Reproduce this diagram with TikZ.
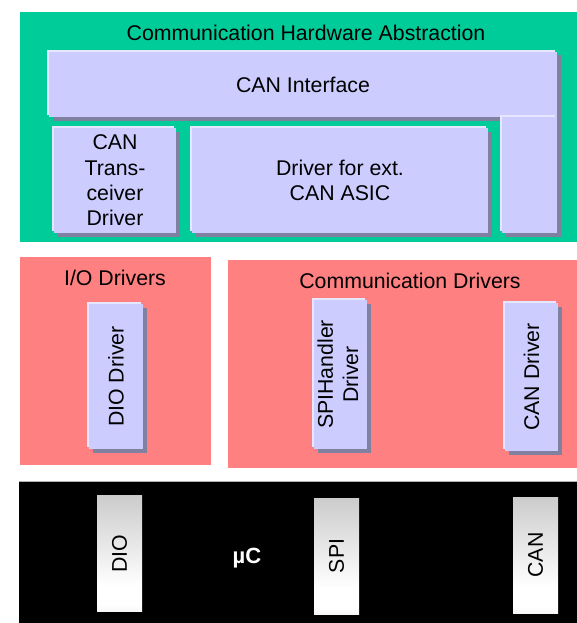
\documentclass[tikz,border=0pt]{standalone}
\usepackage{fontspec}
\setmainfont{Liberation Sans}
\definecolor{hwgreen}{RGB}{0,204,153}
\definecolor{drvred}{RGB}{255,128,128}
\definecolor{modfill}{RGB}{204,204,255}
\definecolor{modlight}{RGB}{230,230,255}
\definecolor{modshadow}{RGB}{128,128,160}
\pgfdeclareverticalshading{pinshading}{100bp}{color(0bp)=(black!30); color(28bp)=(white); color(36bp)=(white); color(100bp)=(black!33)}
\begin{document}
\begin{tikzpicture}
[x=1pt,y=-1pt,font=\fontsize{21.3}{25.3}\selectfont,
  layerdecorate/.style={shape=rectangle,inner sep=0pt,draw=none},%
  moddecorate/.style={shape=rectangle,inner sep=0pt,align=center,fill=modfill,
    preaction={fill=modshadow,transform canvas={xshift=3.5pt,yshift=-3.5pt}},
    preaction={fill=modlight,transform canvas={xshift=-2pt,yshift=2pt}}},%
  pindecorate/.style={shape=rectangle,inner sep=0pt,shading=pinshading,
    minimum width=45pt,minimum height=116pt}]
\useasboundingbox (0,0) rectangle (577,623);
%% layers
\node (hwabs) at (298.5,127) [layerdecorate,fill=hwgreen,minimum width=557pt,minimum height=230pt] {};
\node (iodrv) at (115.5,361) [layerdecorate,fill=drvred,minimum width=191pt,minimum height=208pt] {};
\node (comdrv) at (402.5,364) [layerdecorate,fill=drvred,minimum width=349pt,minimum height=208pt] {};
\node (mcu) at (298,552.5) [layerdecorate,fill=black,minimum width=558pt,minimum height=141pt] {};
\draw[gray!60,line width=1pt] (mcu.north west) -- (mcu.north east);
%% layer titles
\node (hwabstitle) at (306,33) {Communication Hardware Abstraction};
\node (iotitle) at (115,278) {I/O Drivers};
\node (comtitle) at (410,281) {Communication Drivers};
\node (mcutitle) at (247,558) [text=white,font=\fontsize{22}{26}\selectfont\bfseries] {µC};
%% modules
\node (canif) at (303,84.5) [moddecorate,minimum width=508pt,minimum height=65pt] {CAN Interface};
\node (canleg) at (529.5,175) [moddecorate,minimum width=55pt,minimum height=116pt] {};
\node (cantrcv) at (115,180.5) [moddecorate,minimum width=122pt,minimum height=105pt] {CAN\\Trans-\\ceiver\\Driver};
\node (canasic) at (340,180.5) [moddecorate,minimum width=296pt,minimum height=105pt] {Driver for ext.\\CAN ASIC};
\node (diodrv) at (116,376.5) [moddecorate,minimum width=54pt,minimum height=145pt] {\rotatebox{90}{DIO Driver}};
\node (spidrv) at (340.5,374.5) [moddecorate,minimum width=53pt,minimum height=149pt]
  {\rotatebox{90}{\begin{tabular}{@{}c@{}}SPIHandler\\Driver\end{tabular}}};
\node (candrv) at (531.5,377) [moddecorate,minimum width=53pt,minimum height=148pt] {\rotatebox{90}{CAN Driver}};
%% peripherals
\foreach \pinname/\x/\y/\pintext in {diopin/119.5/553.5/DIO, spipin/336.5/556/SPI,
  canpin/535.5/555/CAN} {
  \node (\pinname) at (\x,\y) [pindecorate] {\rotatebox{90}{\pintext}};
}
\end{tikzpicture}
\end{document}
